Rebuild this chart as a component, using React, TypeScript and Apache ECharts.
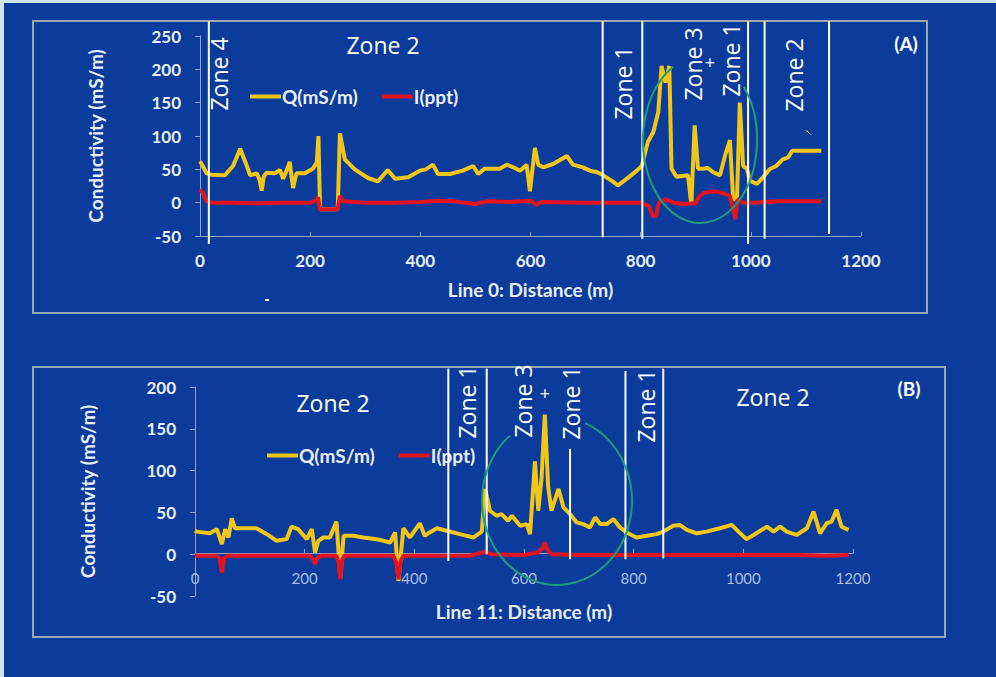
import React, { useEffect, useRef } from "react";
import * as echarts from "echarts";

// ---------- data ----------
const xTicksTop = [0, 200, 400, 600, 800, 1000, 1200];
const topQ: number[][] = [
  [0, 62], [5, 55], [12, 44], [20, 42], [45, 41], [60, 55], [73, 81], [85, 55], [91, 41], [103, 44],
  [108, 35], [112, 18], [116, 40], [121, 45], [136, 44], [145, 49], [151, 36], [157, 48], [163, 61],
  [166, 40], [169, 22], [175, 44], [190, 44], [205, 51], [212, 60], [215, 100], [218, -10], [250, -10],
  [254, 104], [263, 65], [281, 50], [305, 37], [323, 32], [341, 49], [354, 36], [378, 38], [399, 48],
  [410, 50], [423, 57], [432, 43], [454, 43], [477, 48], [496, 55], [505, 43], [517, 51], [544, 51],
  [557, 57], [569, 53], [581, 48], [593, 57], [599, 17], [608, 82], [614, 57], [623, 53], [641, 58],
  [666, 70], [677, 57], [695, 53], [708, 48], [720, 46], [732, 41], [747, 33], [759, 26], [775, 36],
  [793, 48], [802, 55], [813, 91], [823, 106], [832, 136], [838, 205], [845, 180], [852, 205], [856, 51],
  [865, 39], [886, 41], [892, -3], [898, 116], [904, 51], [913, 51], [922, 52], [931, 46], [944, 41],
  [953, 70], [962, 94], [968, 4], [975, 10], [980, 150], [986, 55], [993, 51], [998, 33], [1011, 28],
  [1022, 38], [1034, 50], [1046, 55], [1058, 65], [1068, 68], [1075, 78], [1128, 78],
];
const topI: number[][] = [
  [0, 20], [5, 15], [12, 2], [20, 0], [60, 0], [100, -1], [150, 0], [200, 0], [210, 3], [214, 8],
  [218, -10], [250, -10], [254, 10], [260, 2], [300, 0], [350, 0], [400, 1], [430, 3], [460, 2],
  [480, 0], [500, -2], [520, 2], [560, 1], [600, 3], [610, -3], [620, 1], [700, 0], [760, 0], [800, 0],
  [815, -5], [822, -20], [828, -20], [833, 0], [845, 5], [860, 0], [880, -2], [900, -1], [905, 8],
  [915, 15], [935, 17], [950, 14], [962, 10], [968, -10], [972, -25], [976, 5], [985, 0], [1000, 0],
  [1050, 2], [1128, 2],
];
const botQ: number[][] = [
  [0, 28], [3, 27], [27, 25], [40, 30], [49, 12], [55, 30], [61, 20], [67, 43], [73, 31], [82, 31],
  [112, 31], [131, 24], [149, 16], [167, 18], [176, 33], [188, 30], [204, 18], [213, 30], [219, 2],
  [225, 16], [234, 20], [246, 20], [258, 39], [265, -28], [271, 22], [289, 22], [307, 20], [331, 18],
  [356, 14], [365, 26], [371, -32], [380, 31], [392, 20], [410, 37], [419, 22], [428, 26], [441, 31],
  [459, 28], [483, 24], [508, 20], [523, 27], [529, 78], [538, 52], [550, 46], [559, 48], [571, 40],
  [578, 46], [593, 34], [605, 36], [611, 24], [620, 111], [626, 52], [632, 91], [638, 167], [644, 81],
  [650, 52], [663, 78], [672, 56], [684, 48], [696, 38], [708, 36], [720, 32], [730, 44], [739, 36],
  [751, 36], [763, 42], [775, 32], [787, 26], [805, 20], [824, 22], [842, 24], [854, 27], [872, 34],
  [884, 35], [897, 29], [915, 25], [933, 27], [957, 31], [979, 35], [991, 27], [1006, 18], [1024, 25],
  [1043, 33], [1055, 27], [1067, 33], [1079, 27], [1097, 23], [1116, 31], [1128, 51], [1140, 25],
  [1152, 37], [1161, 39], [1170, 53], [1179, 33], [1192, 29],
];
const botI: number[][] = [
  [0, -2], [40, -2], [45, -5], [49, -22], [53, -5], [58, -2], [150, -2], [210, -2], [215, -6],
  [219, -12], [223, -4], [230, -2], [258, -2], [262, -10], [265, -30], [268, -8], [272, -2], [362, -2],
  [367, -10], [371, -30], [375, -8], [380, -2], [500, -2], [529, 3], [540, 0], [600, -1], [625, 2],
  [635, 8], [638, 14], [642, 6], [650, 0], [700, -1], [800, -1], [900, -1], [1000, -1], [1100, -1],
  [1150, -2], [1192, -1],
];
// zone boundary lines: [distance, bottom value, top value]
const topZoneLines: number[][] = [
  [16, -62, 272], [731, -52, 272], [803, -54, 272], [995, -62, 272], [1025, -54, 272], [1142, -47, 272],
];
const botZoneLines: number[][] = [
  [462, -8, 222], [532, 0, 222], [684, -6, 126], [785, -6, 219], [854, -5, 222],
];
const seriesNames = ["Q(mS/m)", "I(ppt)"];

// ---------- styling ----------
const BG = "#0b3c9b";
const YELLOW = "#f2c616";
const RED = "#e3141f";
const WHITE = "#ffffff";
const LABEL = "#e9eef7";
const AXIS = "#8ea3c6";
const GREEN = "#1f9c78";
const FONT = "Lato, 'Open Sans', sans-serif";
const ZFONT = "'Open Sans', sans-serif";

let registered = false;
function registerShapes() {
  if (registered) return;
  registered = true;
  echarts.graphic.registerShape(
    "ellA",
    echarts.graphic.extendPath("M743.7 86.6 A57 83 0 1 1 673.3 66.7", {}) as any
  );
  echarts.graphic.registerShape(
    "ellB",
    echarts.graphic.extendPath("M585.1 423.1 A75 84 0 1 1 509.8 435.7", {}) as any
  );
}

function zoneText(text: string, x: number, y: number, rotated: boolean, extra: any = {}) {
  return {
    type: "text",
    x,
    y,
    rotation: rotated ? Math.PI / 2 : 0,
    z: 50,
    style: {
      text,
      fill: WHITE,
      font: `23px ${ZFONT}`,
      textAlign: "center",
      textVerticalAlign: "middle",
      ...extra,
    },
  };
}

const zoneRender = (params: any, api: any) => {
  const p1 = api.coord([api.value(0), api.value(1)]);
  const p2 = api.coord([api.value(0), api.value(2)]);
  return {
    type: "line",
    shape: { x1: p1[0], y1: p1[1], x2: p2[0], y2: p2[1] },
    style: { stroke: WHITE, lineWidth: 2 },
  };
};

export default function App() {
  const ref = useRef<HTMLDivElement>(null);
  useEffect(() => {
    if (!ref.current) return;
    registerShapes();
    const chart = echarts.init(ref.current, null, { renderer: "svg" });
    const xAxisBase = (gridIndex: number, bold: boolean, margin: number, name: string, nameGap: number, offset: number) => ({
      type: "value",
      gridIndex,
      min: xTicksTop[0],
      max: xTicksTop[xTicksTop.length - 1],
      interval: 200,
      name,
      nameLocation: "middle",
      nameGap,
      offset,
      nameTextStyle: { color: LABEL, fontFamily: FONT, fontWeight: "bold", fontSize: 19 },
      axisLine: { show: true, onZero: false, lineStyle: { color: AXIS, width: 1 } },
      axisTick: { show: true, length: 4, inside: true, lineStyle: { color: AXIS } },
      splitLine: { show: false },
      axisLabel: bold
        ? { color: LABEL, fontFamily: FONT, fontWeight: "bold", fontSize: 17, margin, formatter: (v: number) => String(v) }
        : { color: "#aebfe0", fontFamily: FONT, fontWeight: "normal", fontSize: 15, margin, formatter: (v: number) => String(v) },
    });
    const yAxisBase = (gridIndex: number, min: number, max: number, nameGap: number) => ({
      type: "value",
      gridIndex,
      min,
      max,
      interval: 50,
      name: "Conductivity (mS/m)",
      nameLocation: "middle",
      nameGap,
      nameTextStyle: { color: LABEL, fontFamily: FONT, fontWeight: "bold", fontSize: 19 },
      axisLine: { show: true, lineStyle: { color: AXIS, width: 1 } },
      axisTick: { show: true, length: 5, lineStyle: { color: AXIS } },
      splitLine: { show: false },
      axisLabel: { color: LABEL, fontFamily: FONT, fontWeight: "bold", fontSize: 17, margin: 19 },
    });
    const lineSeries = (name: string, data: number[][], idx: number, color: string, z: number) => ({
      type: "line",
      name,
      data,
      xAxisIndex: idx,
      yAxisIndex: idx,
      showSymbol: false,
      symbol: "none",
      lineStyle: { color, width: 4 },
      itemStyle: { color },
      z,
    });
    const legendBase = (left: number, top: number) => ({
      left,
      top,
      data: seriesNames,
      icon: "rect",
      itemWidth: 31,
      itemHeight: 4,
      itemGap: 24,
      textStyle: { color: LABEL, fontFamily: FONT, fontWeight: "bold", fontSize: 19, padding: [0, 0, 0, -4] },
    });
    const option: any = {
      animation: false,
      backgroundColor: BG,
      textStyle: { fontFamily: FONT },
      grid: [
        { left: 200, top: 36, width: 661, height: 200, containLabel: false },
        { left: 195, top: 387, width: 658, height: 209, containLabel: false },
      ],
      xAxis: [
        xAxisBase(0, true, 16, "Line 0: Distance (m)", 44, 0),
        xAxisBase(1, false, 17, "Line 11: Distance (m)", 49, -43),
      ],
      yAxis: [yAxisBase(0, -50, 250, 95), yAxisBase(1, -50, 200, 98)],
      legend: [legendBase(245, 82), legendBase(262, 441)],
      series: [
        lineSeries(seriesNames[0], topQ, 0, YELLOW, 2),
        lineSeries(seriesNames[1], topI, 0, RED, 3),
        lineSeries(seriesNames[0], botQ, 1, YELLOW, 2),
        lineSeries(seriesNames[1], botI, 1, RED, 3),
        {
          type: "custom",
          xAxisIndex: 0,
          yAxisIndex: 0,
          data: topZoneLines,
          renderItem: zoneRender,
          encode: { x: 0, y: [1, 2] },
          clip: false,
          z: 5,
          silent: true,
        },
        {
          type: "custom",
          xAxisIndex: 1,
          yAxisIndex: 1,
          data: botZoneLines,
          renderItem: zoneRender,
          encode: { x: 0, y: [1, 2] },
          clip: false,
          z: 5,
          silent: true,
        },
      ],
      graphic: [
        { type: "rect", shape: { x: 0, y: 0, width: 4, height: 677 }, style: { fill: "#cfe6ee" }, z: 1 },
        { type: "rect", shape: { x: 0, y: 0, width: 996, height: 3 }, style: { fill: "#cfe6ee" }, z: 1 },
        { type: "rect", shape: { x: 33, y: 21, width: 894, height: 292 }, style: { fill: "none", stroke: "#93aaae", lineWidth: 2 }, z: 1 },
        { type: "rect", shape: { x: 33, y: 367, width: 912, height: 270 }, style: { fill: "none", stroke: "#93aaae", lineWidth: 2 }, z: 1 },
        { type: "ellA", x: 0, y: 0, style: { fill: "none", stroke: GREEN, lineWidth: 2 }, z: 40 },
        { type: "ellB", x: 0, y: 0, style: { fill: "none", stroke: GREEN, lineWidth: 2 }, z: 40 },
        // panel A labels
        zoneText("Zone 2", 383, 45, false),
        zoneText("Zone 4", 219, 74, true),
        zoneText("Zone 1", 623, 83, true),
        zoneText("Zone 3", 693, 64, true),
        zoneText("+", 710, 62, false, { font: `18px ${ZFONT}` }),
        zoneText("Zone 1", 731, 60, true),
        zoneText("Zone 2", 794, 75, true),
        zoneText("(A)", 906, 43, false, { font: `bold 19px ${FONT}` }),
        // panel B labels
        zoneText("Zone 2", 333, 403, false),
        zoneText("Zone 1", 467, 402, true),
        zoneText("Zone 3", 523, 401, true),
        zoneText("+", 545, 393, false, { font: `18px ${ZFONT}` }),
        zoneText("Zone 1", 571, 403, true),
        zoneText("Zone 1", 646, 406, true),
        zoneText("Zone 2", 773, 397, false),
        zoneText("(B)", 909, 388, false, { font: `bold 19px ${FONT}` }),
        { type: "rect", shape: { x: 265, y: 299, width: 4, height: 2 }, style: { fill: WHITE }, z: 50 },
        { type: "line", shape: { x1: 806, y1: 130, x2: 811, y2: 135 }, style: { stroke: WHITE, lineWidth: 1 }, z: 50 },
      ],
    };
    chart.setOption(option);
    return () => chart.dispose();
  }, []);
  return (
    <div
      ref={ref}
      style={{ position: "fixed", left: 0, top: 0, width: 996, height: 677 }}
    />
  );
}
